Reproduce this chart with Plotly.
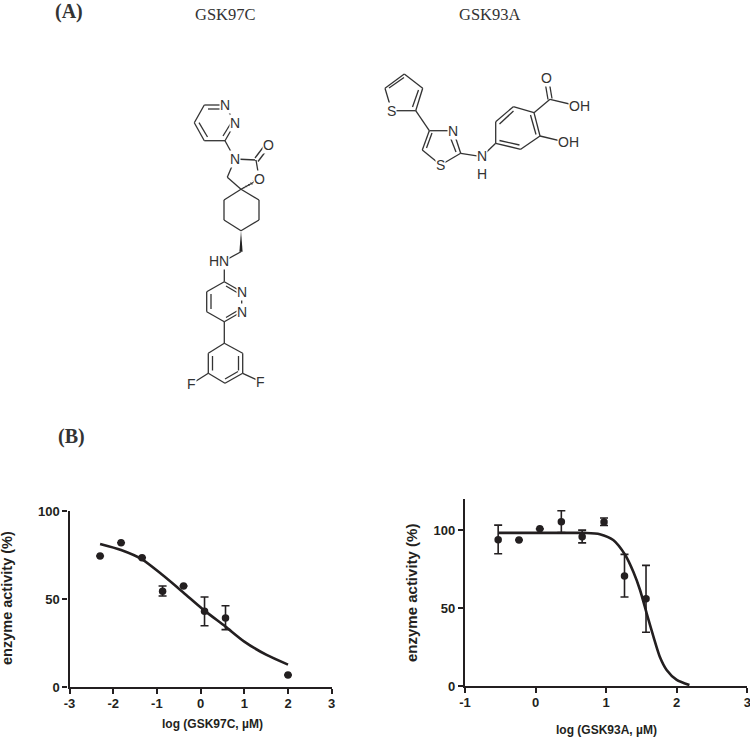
import plotly.graph_objects as go

W, H = 750, 738
INK = "#231f20"

# left panel, GSK97C
gsk97_x = [-2.30, -1.82, -1.34, -0.87, -0.39, 0.09, 0.57, 2.0]
gsk97_y = [74.4, 82.0, 73.5, 54.4, 57.4, 43.0, 39.2, 6.8]
gsk97_err_up = [0, 0, 0, 3.0, 0, 8.1, 7.0, 0]
gsk97_err_down = [0, 0, 0, 2.7, 0, 8.2, 6.6, 0]
gsk97_fit_x = [-2.3, -1.82, -1.34, -0.87, -0.39, 0.09, 0.57, 1.0, 1.51, 2.0]
gsk97_fit_y = [81.2, 77.8, 72.5, 63.6, 53.6, 43.4, 34.3, 25.8, 18.2, 12.7]
gsk97_xticks = [-3, -2, -1, 0, 1, 2, 3]

# right panel, GSK93A
gsk93_x = [-0.53, -0.235, 0.06, 0.365, 0.66, 0.97, 1.26, 1.565]
gsk93_y = [94.0, 93.8, 101.0, 105.6, 96.0, 105.4, 70.7, 56.0]
gsk93_err_up = [9.4, 0, 0, 7.0, 4.2, 2.6, 13.9, 21.5]
gsk93_err_down = [9.0, 0, 0, 7.0, 4.0, 2.2, 13.5, 21.5]
gsk93_fit_x = [-0.53, 0.0, 0.4, 0.7, 0.91, 1.10, 1.27, 1.385, 1.48, 1.574, 1.67, 1.76, 1.857, 2.0, 2.18]
gsk93_fit_y = [98.4, 98.4, 98.4, 98.4, 97.6, 93.8, 84.2, 73.4, 61.7, 46.7, 31.7, 18.8, 10.3, 3.9, 0.6]
gsk93_xticks = [-1, 0, 1, 2, 3]

activity_ticks = [0, 50, 100]

# molecule drawings, in page pixels
mol_lines = [
    # GSK97C top pyridazine
    (225, 105, 204.3, 105), (204.3, 105, 194.3, 122.7), (194.3, 122.7, 204.3, 140.7),
    (204.3, 140.7, 225, 140.7), (225, 140.7, 235, 123.3), (235, 123.3, 225, 105),
    (208, 109, 222, 109), (199, 122.7, 207.5, 137), (223, 136, 231, 123),
    # oxazolidinone
    (225, 140.7, 235, 159), (235, 159, 256, 160), (256, 160, 259.3, 179.3),
    (259.3, 179.3, 241, 189.3), (241, 189.3, 227.3, 177.3), (227.3, 177.3, 235, 159),
    (255, 158, 266, 143.5), (258, 161.5, 269, 147),
    # cyclohexane
    (241, 189.3, 259, 200), (259, 200, 259, 220), (259, 220, 241, 230.7),
    (241, 230.7, 224, 220), (224, 220, 224, 200), (224, 200, 241, 189.3),
    (241, 251.7, 226, 260),
    # lower pyridazine
    (224.3, 262, 224.3, 281.7), (224.3, 281.7, 241.7, 291.7), (241.7, 291.7, 241.7, 311.7),
    (241.7, 311.7, 224.3, 321.7), (224.3, 321.7, 206.7, 311.7), (206.7, 311.7, 206.7, 291.7),
    (206.7, 291.7, 224.3, 281.7), (226, 286, 237, 292.5), (226, 317.5, 237, 311),
    (211, 309, 211, 294),
    # difluorophenyl
    (224.3, 321.7, 224.3, 343.3), (224.3, 343.3, 242.7, 353.3), (242.7, 353.3, 242.7, 373.3),
    (242.7, 373.3, 225, 383.3), (225, 383.3, 208.3, 373.3), (208.3, 373.3, 208.3, 353.3),
    (208.3, 353.3, 224.3, 343.3), (238.5, 356, 238.5, 370.5), (225, 379, 238, 371.5),
    (212.5, 370.5, 212.5, 356), (208.3, 373.3, 191, 384.3), (242.7, 373.3, 260.7, 381.7),
    # GSK93A thiophene
    (391.7, 110.7, 385, 88.3), (385, 88.3, 404.3, 74), (404.3, 74, 422.7, 88.3),
    (422.7, 88.3, 415.7, 110.7), (415.7, 110.7, 391.7, 110.7),
    (389, 88, 404, 77.5), (418.5, 90, 412.5, 107),
    # thiazole
    (415.7, 110.7, 429.3, 130.7), (429.3, 130.7, 453.3, 130.7), (453.3, 130.7, 460.7, 153.3),
    (460.7, 153.3, 440.7, 165), (440.7, 165, 422.3, 150), (422.3, 150, 429.3, 130.7),
    (426.5, 148, 432, 133), (449, 134, 456, 152),
    # amine and salicylic acid ring
    (460.7, 153.3, 481.7, 156.7), (481.7, 156.7, 495.7, 143.3),
    (495.7, 143.3, 495.7, 121.7), (495.7, 121.7, 513.3, 106.7), (513.3, 106.7, 534, 112.7),
    (534, 112.7, 540, 136), (540, 136, 520.7, 149.3), (520.7, 149.3, 495.7, 143.3),
    (499.5, 124, 513.5, 111), (530.5, 115, 536, 134.5), (519.5, 145, 499.5, 140.5),
    (534, 112.7, 550, 99.3), (550, 99.3, 578, 106), (540, 136, 566.7, 142.3),
    (548, 99.5, 544.5, 79), (552, 98.5, 548.5, 78),
]
mol_wedges = [(241, 230.7, 241, 251.7)]
mol_hashes = [(241, 189.3, 259.3, 179.3)]
mol_labels = [
    ("N", 225, 105), ("N", 235, 123.3), ("N", 235, 159), ("O", 268.3, 145), ("O", 259.3, 179.3),
    ("HN", 219.3, 260.7), ("N", 241.7, 291.7), ("N", 241.7, 311.7), ("F", 191, 384.3), ("F", 260.7, 381.7),
    ("S", 391.7, 110.7), ("N", 453.3, 130.7), ("S", 440.7, 165), ("N<br>H", 481.7, 165),
    ("O", 546.7, 78.3), ("OH", 579, 106), ("OH", 568, 142.3),
]
header_labels = [
    ("(A)", 69, 12, "bold"), ("GSK97C", 225.5, 15, "normal"), ("GSK93A", 490, 15, "normal"), ("(B)", 71, 436, "bold"),
]
axis_titles = [
    ("log (GSK97C, µM)", 212, 724, 0, 12), ("log (GSK93A, µM)", 606, 730, 0, 12),
    ("enzyme activity (%)", 7, 598, -90, 14.5), ("enzyme activity (%)", 411, 593, -90, 15),
]


def px(x):
    return x / W


def py(y):
    return 1 - y / H


def dose_panel(fig, x, y, up, down, fit_x, fit_y, xa, ya):
    fig.add_trace(go.Scatter(x=fit_x, y=fit_y, mode="lines", xaxis=xa, yaxis=ya, showlegend=False,
                             line=dict(color=INK, width=2.6, shape="spline", smoothing=0.7), cliponaxis=False))
    fig.add_trace(go.Scatter(x=x, y=y, mode="markers", xaxis=xa, yaxis=ya, showlegend=False, cliponaxis=False,
                             marker=dict(color=INK, size=7.5),
                             error_y=dict(type="data", symmetric=False, array=up, arrayminus=down,
                                          color=INK, thickness=1.6, width=4)))


fig = go.Figure()
dose_panel(fig, gsk97_x, gsk97_y, gsk97_err_up, gsk97_err_down, gsk97_fit_x, gsk97_fit_y, "x", "y")
dose_panel(fig, gsk93_x, gsk93_y, gsk93_err_up, gsk93_err_down, gsk93_fit_x, gsk93_fit_y, "x2", "y2")

axis_style = dict(showline=True, linecolor=INK, linewidth=2.2, ticks="outside", tickcolor=INK, ticklen=5, tickwidth=2.2,
                  showgrid=False, zeroline=False, automargin=False, ticklabeloverflow="allow",
                  tickfont=dict(family="Liberation Sans", size=13, color=INK, weight="bold"))

fig.update_layout(
    width=W, height=H, margin=dict(l=0, r=0, t=0, b=0), paper_bgcolor="white", plot_bgcolor="white",
    showlegend=False,
    xaxis=dict(domain=[px(69.5), px(331.7)], range=[-3, 3], tickvals=gsk97_xticks, ticklabelstandoff=-2,
               ticktext=[str(t) for t in gsk97_xticks], anchor="y", **axis_style),
    yaxis=dict(domain=[py(687), py(511)], range=[0, 100], tickvals=activity_ticks, anchor="x", **axis_style),
    xaxis2=dict(domain=[px(465), px(747.3)], range=[-1, 3], tickvals=gsk93_xticks, ticklabelstandoff=-2,
                ticktext=[str(t) for t in gsk93_xticks], anchor="y2", **axis_style),
    yaxis2=dict(domain=[py(686), py(499.3)], range=[0, 120], tickvals=activity_ticks, anchor="x2", **axis_style),
)

for text, x, y, angle, size in axis_titles:
    fig.add_annotation(text=text, xref="paper", yref="paper", x=px(x), y=py(y), showarrow=False, textangle=angle,
                       xanchor="center", yanchor="middle",
                       font=dict(family="Liberation Sans", size=size, color=INK, weight="bold"))
for x0, y0, x1, y1 in mol_lines:
    fig.add_shape(type="line", xref="paper", yref="paper", x0=px(x0), y0=py(y0), x1=px(x1), y1=py(y1),
                  line=dict(color="#333333", width=1.3))
for x0, y0, x1, y1 in mol_wedges:
    fig.add_shape(type="path", xref="paper", yref="paper", line=dict(width=0), fillcolor="#222222",
                  path=f"M{px(x0)},{py(y0)} L{px(x1 - 1.6)},{py(y1)} L{px(x1 + 1.6)},{py(y1)} Z")
for x0, y0, x1, y1 in mol_hashes:
    for i in range(1, 7):
        t = i / 7
        xm, ym = x0 + (x1 - x0) * t, y0 + (y1 - y0) * t
        half = 0.35 + 2.0 * t
        fig.add_shape(type="line", xref="paper", yref="paper", x0=px(xm - 0.5 * half), y0=py(ym - 0.85 * half),
                      x1=px(xm + 0.5 * half), y1=py(ym + 0.85 * half), line=dict(color="#333333", width=0.8))
for text, x, y in mol_labels:
    fig.add_annotation(text=text, xref="paper", yref="paper", x=px(x), y=py(y), showarrow=False,
                       xanchor="center", yanchor="middle", bgcolor="white", borderpad=0,
                       font=dict(family="Liberation Sans", size=14, color="#333333"))
for text, x, y, weight in header_labels:
    bold = weight == "bold"
    fig.add_annotation(text=text, xref="paper", yref="paper", x=px(x), y=py(y),
                       showarrow=False, xanchor="center", yanchor="middle",
                       font=dict(family="Liberation Serif", size=20 if bold else 16.5, color="#333333",
                                 weight="bold" if bold else "normal"))

fig.write_html("out.html", config=dict(displayModeBar=False), post_script="document.body.style.margin = '0';")
